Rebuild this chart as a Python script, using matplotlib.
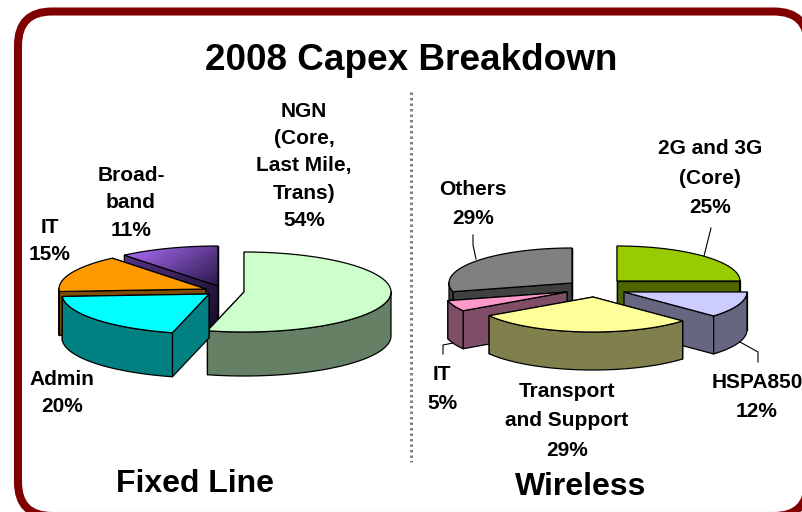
import numpy as np
import matplotlib
matplotlib.use('Agg')
from matplotlib import pyplot as plt
from matplotlib.colors import LinearSegmentedColormap
from matplotlib.patches import FancyBboxPatch, Polygon

plt.rcParams['font.family'] = ['Liberation Sans', 'DejaVu Sans']
plt.rcParams['font.weight'] = 'bold'

title = '2008 Capex Breakdown'

# Fixed line shares, clockwise from 12 o'clock
fixed_labels = ['NGN\n(Core,\nLast Mile,\nTrans)\n54%', 'Admin\n20%', 'IT\n15%', 'Broad-\nband\n11%']
fixed_shares = [54, 20, 15, 11]
fixed_tops = ['#CCFFCC', '#00FFFF', '#FF9900', ('#B070FF', '#2A1848')]
fixed_sides = ['#668066', '#008080', '#804D00', ('#55348A', '#180C28')]

# Wireless shares, clockwise from 12 o'clock
wireless_labels = ['2G and 3G\n(Core)\n25%', 'HSPA850\n12%', 'Transport\nand Support\n29%', 'IT\n5%', 'Others\n29%']
wireless_shares = [25, 12, 29, 5, 29]
wireless_tops = ['#99CC00', '#CCCCFF', '#FFFF99', '#FF99CC', '#808080']
wireless_sides = ['#4D6600', '#666680', '#80804D', '#804D66', '#404040']


def wedge_angles(shares):
    edges = 90 - 3.6 * np.cumsum([0] + list(shares))
    return list(zip(edges[:-1], edges[1:]))


def rim(cx, cy, rx, ry, angles):
    a = np.radians(angles)
    return np.column_stack([cx + rx * np.cos(a), cy - ry * np.sin(a)])


def fill(ax, pts, color, z, lw):
    # a (light, dark) tuple means a left-to-right / top-to-bottom gradient
    if isinstance(color, tuple):
        patch = Polygon(pts, closed=True, facecolor='none', edgecolor='none', zorder=z)
        ax.add_patch(patch)
        cmap = LinearSegmentedColormap.from_list('grad', list(color))
        x0, y0 = np.min(pts, axis=0)
        x1, y1 = np.max(pts, axis=0)
        xx, yy = np.meshgrid(np.linspace(0, 1, 64), np.linspace(0, 1, 64))
        im = ax.imshow(0.6 * xx + 0.4 * yy, cmap=cmap, extent=(x0, x1, y1, y0), vmin=0, vmax=1,
                       aspect='auto', zorder=z, interpolation='bilinear')
        im.set_clip_path(patch)
        ax.add_patch(Polygon(pts, closed=True, facecolor='none', edgecolor='black', linewidth=lw, zorder=z))
    else:
        ax.add_patch(Polygon(pts, closed=True, facecolor=color, edgecolor='black', linewidth=lw,
                             joinstyle='round', zorder=z))


def draw_wedge(ax, cx, cy, rx, ry, depth, start, end, top, side, z, lw=0.9):
    first = rim(cx, cy, rx, ry, [start])[0]
    last = rim(cx, cy, rx, ry, [end])[0]
    # cut faces first, back one before front one; top and wall paint over the rest
    for p in sorted((first, last), key=lambda q: q[1]):
        quad = np.array([(cx, cy), p, (p[0], p[1] + depth), (cx, cy + depth)])
        fill(ax, quad, side, z, lw)
    # outer wall, front half only
    arc = np.linspace(start, end, 90)
    arc = arc[np.sin(np.radians(arc)) <= 0.02]
    if len(arc) > 1:
        pts = rim(cx, cy, rx, ry, arc)
        low = pts + [0, depth]
        fill(ax, np.vstack([pts, low[::-1]]), side, z, lw)
    pts = rim(cx, cy, rx, ry, np.linspace(start, end, 90))
    fill(ax, np.vstack([[(cx, cy)], pts]), top, z, lw)


fig = plt.figure(figsize=(8.02, 5.12), dpi=100)
ax = fig.add_axes([0, 0, 1, 1])

# rounded frame
ax.add_patch(FancyBboxPatch((18, 11.5), 790, 504.5, boxstyle='round,pad=0,rounding_size=34',
                            facecolor='white', edgecolor='#800000', linewidth=5.8, zorder=0))

# Fixed line pie: centre per wedge because they are pulled apart
fixed_centres = [(244, 292), (209, 294), (206, 289), (218, 286)]
fixed_order = [3, 2, 0, 1]
angles = wedge_angles(fixed_shares)
for i in fixed_order:
    cx, cy = fixed_centres[i]
    draw_wedge(ax, cx, cy, 147, 40, 44, angles[i][0], angles[i][1],
               fixed_tops[i], fixed_sides[i], 2 + fixed_order.index(i))

# Wireless pie
wireless_centres = [(617, 281), (624, 292), (593, 297), (567, 292), (572, 283)]
wireless_order = [4, 0, 1, 3, 2]
angles = wedge_angles(wireless_shares)
for i in wireless_order:
    cx, cy = wireless_centres[i]
    draw_wedge(ax, cx, cy, 123, 35, 38, angles[i][0], angles[i][1],
               wireless_tops[i], wireless_sides[i], 2 + wireless_order.index(i))

# leader lines
for xs, ys in [([476, 473, 473], [259, 245, 235]),
               ([704, 711], [256, 228]),
               ([453, 443, 443], [343, 345, 354]),
               ([740, 758, 758], [342, 352, 362])]:
    ax.plot(xs, ys, color='black', lw=0.8, zorder=10)

# divider
ax.plot([411, 411], [92, 462], color='#808080', lw=2.2, ls=(0, (0.8, 1.0)), zorder=1)

ax.text(411, 60, title, fontsize=26.6, ha='center', va='center')
ax.text(195, 484, 'Fixed Line', fontsize=23, ha='center', va='center')
ax.text(581, 487, 'Wireless', fontsize=23, ha='center', va='center')

label_xy = [(304, 166), (62, 393), (50, 241), (131, 203)]
for s, (x, y) in zip(fixed_labels, label_xy):
    ax.text(x, y, s, fontsize=15, ha='center', va='center', linespacing=1.55, zorder=12)
label_xy = [(710, 178), (757, 397), (567, 421), (442, 389), (473, 204)]
for s, (x, y) in zip(wireless_labels, label_xy):
    ax.text(x, y, s, fontsize=15, ha='center', va='center', linespacing=1.68, zorder=12)

ax.set_xlim(0, 802)
ax.set_ylim(512, 0)
ax.axis('off')

fig.savefig('out.png', dpi=100)
